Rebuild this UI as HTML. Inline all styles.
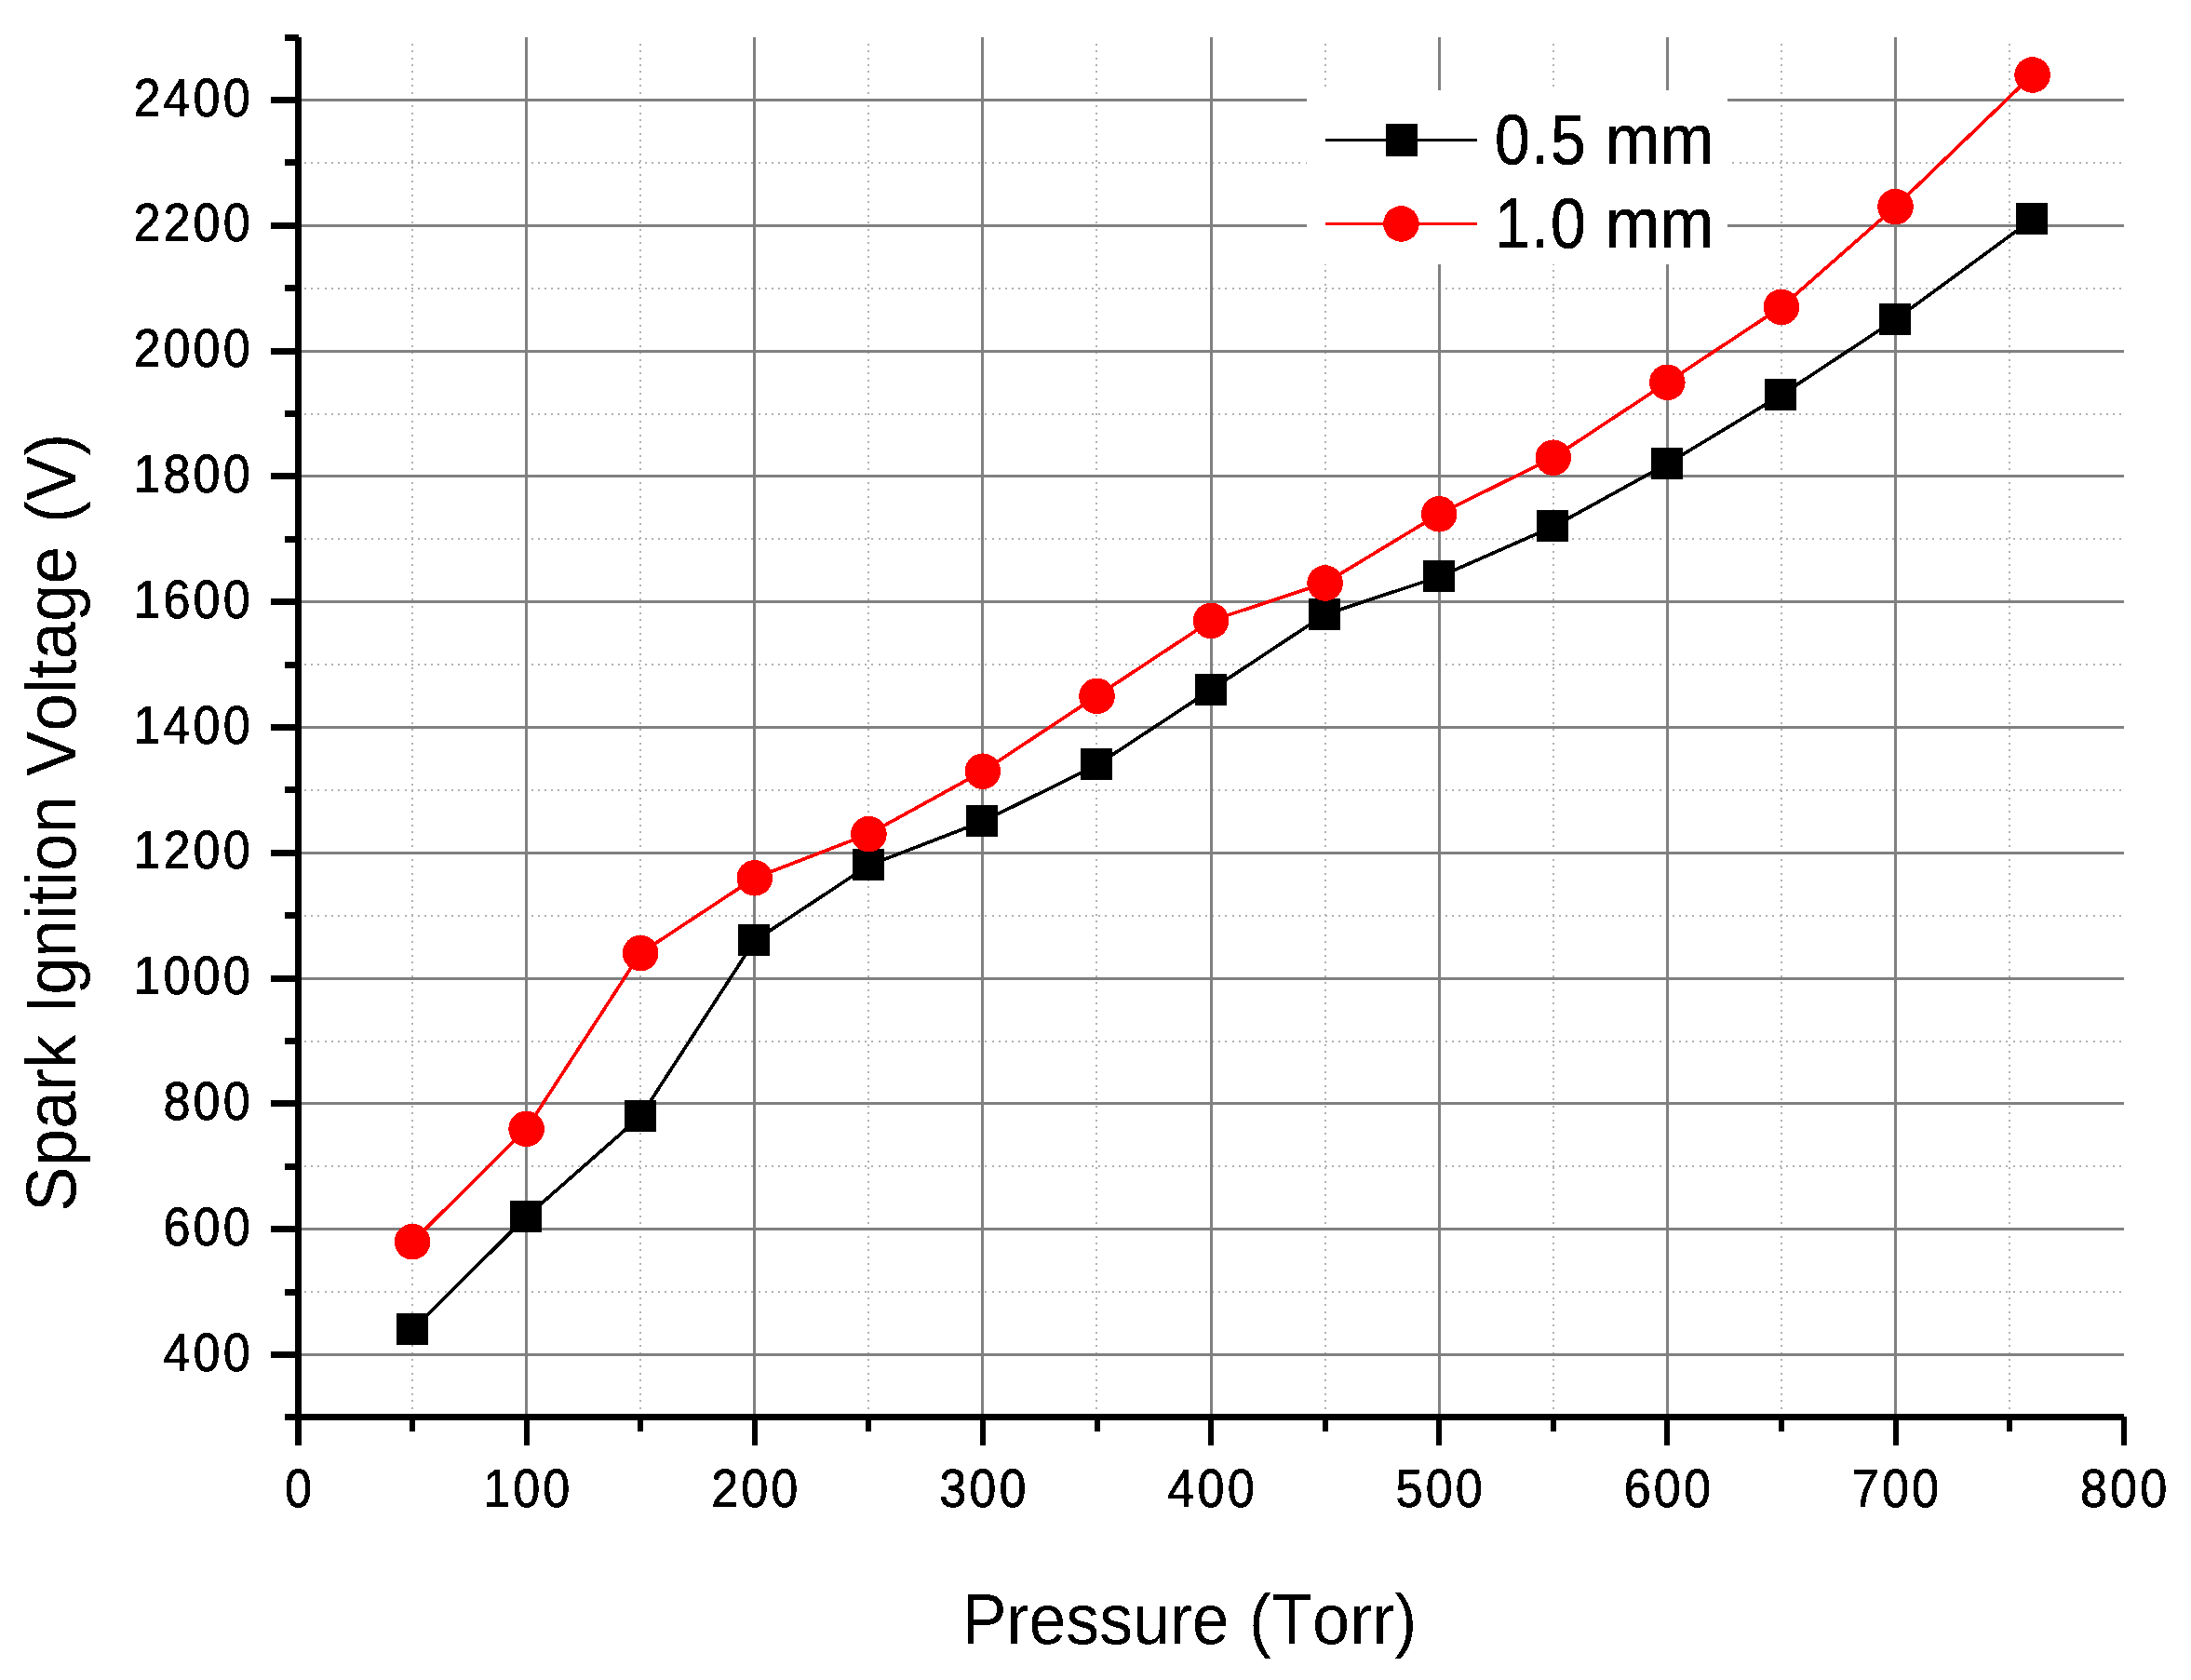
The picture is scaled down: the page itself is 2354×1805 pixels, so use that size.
<!DOCTYPE html>
<html lang="en"><head><meta charset="utf-8"><title>Spark Ignition Voltage vs Pressure</title>
<style>html,body{margin:0;padding:0;background:#fff}body{width:2354px;height:1805px;overflow:hidden}svg{display:block}text{font-family:"Liberation Sans",sans-serif;fill:#000;font-kerning:none}</style></head><body>
<svg width="2354" height="1805" viewBox="0 0 2354 1805">
<defs><filter id="hard" x="-5%" y="-5%" width="110%" height="110%" color-interpolation-filters="sRGB"><feComponentTransfer><feFuncA type="discrete" tableValues="0 1"/></feComponentTransfer></filter></defs>
<rect width="2354" height="1805" fill="#fff"/>
<g fill="none" stroke="#b0b0b0" stroke-width="2" stroke-dasharray="2 5.36" shape-rendering="crispEdges">
<line x1="443" y1="47" x2="443" y2="1518.9"/>
<line x1="688" y1="47" x2="688" y2="1518.9"/>
<line x1="933" y1="47" x2="933" y2="1518.9"/>
<line x1="1178" y1="47" x2="1178" y2="1518.9"/>
<line x1="1424" y1="47" x2="1424" y2="1518.9"/>
<line x1="1669" y1="47" x2="1669" y2="1518.9"/>
<line x1="1914" y1="47" x2="1914" y2="1518.9"/>
<line x1="2159" y1="47" x2="2159" y2="1518.9"/>
</g>
<g fill="none" stroke="#b0b0b0" stroke-width="2" stroke-dasharray="2 5.17" shape-rendering="crispEdges">
<line x1="327" y1="1388.1" x2="2281" y2="1388.1"/>
<line x1="327" y1="1253.3" x2="2281" y2="1253.3"/>
<line x1="327" y1="1118.5" x2="2281" y2="1118.5"/>
<line x1="327" y1="983.7" x2="2281" y2="983.7"/>
<line x1="327" y1="848.9" x2="2281" y2="848.9"/>
<line x1="327" y1="714.1" x2="2281" y2="714.1"/>
<line x1="327" y1="579.3" x2="2281" y2="579.3"/>
<line x1="327" y1="444.5" x2="2281" y2="444.5"/>
<line x1="327" y1="309.7" x2="2281" y2="309.7"/>
<line x1="327" y1="174.9" x2="2281" y2="174.9"/>
</g>
<g fill="none" stroke="#808080" stroke-width="3" shape-rendering="crispEdges">
<line x1="565.6" y1="40.1" x2="565.6" y2="1522.9"/>
<line x1="810.8" y1="40.1" x2="810.8" y2="1522.9"/>
<line x1="1055.9" y1="40.1" x2="1055.9" y2="1522.9"/>
<line x1="1301.1" y1="40.1" x2="1301.1" y2="1522.9"/>
<line x1="1546.2" y1="40.1" x2="1546.2" y2="1522.9"/>
<line x1="1791.3" y1="40.1" x2="1791.3" y2="1522.9"/>
<line x1="2036.5" y1="40.1" x2="2036.5" y2="1522.9"/>
<line x1="320.5" y1="1455.5" x2="2282" y2="1455.5"/>
<line x1="320.5" y1="1320.7" x2="2282" y2="1320.7"/>
<line x1="320.5" y1="1185.9" x2="2282" y2="1185.9"/>
<line x1="320.5" y1="1051.1" x2="2282" y2="1051.1"/>
<line x1="320.5" y1="916.3" x2="2282" y2="916.3"/>
<line x1="320.5" y1="781.5" x2="2282" y2="781.5"/>
<line x1="320.5" y1="646.7" x2="2282" y2="646.7"/>
<line x1="320.5" y1="511.9" x2="2282" y2="511.9"/>
<line x1="320.5" y1="377.1" x2="2282" y2="377.1"/>
<line x1="320.5" y1="242.3" x2="2282" y2="242.3"/>
<line x1="320.5" y1="107.5" x2="2282" y2="107.5"/>
</g>
<rect x="1404" y="97" width="452" height="187" fill="#fff"/>
<polyline points="443.1,1428.5 565.6,1307.2 688.2,1199.4 810.8,1010.7 933.4,929.8 1055.9,882.6 1178.5,821.9 1301.1,741.1 1423.6,660.2 1546.2,619.7 1668.8,565.8 1791.3,498.4 1913.9,424.3 2036.5,343.4 2183.6,235.6" fill="none" stroke="#000" stroke-width="3.7" stroke-linejoin="round" shape-rendering="crispEdges"/>
<g fill="#000" shape-rendering="crispEdges">
<rect x="425.6" y="1411.0" width="34" height="34"/>
<rect x="548.1" y="1289.7" width="34" height="34"/>
<rect x="670.7" y="1181.9" width="34" height="34"/>
<rect x="793.3" y="993.2" width="34" height="34"/>
<rect x="915.9" y="912.3" width="34" height="34"/>
<rect x="1038.4" y="865.1" width="34" height="34"/>
<rect x="1161.0" y="804.4" width="34" height="34"/>
<rect x="1283.6" y="723.6" width="34" height="34"/>
<rect x="1406.1" y="642.7" width="34" height="34"/>
<rect x="1528.7" y="602.2" width="34" height="34"/>
<rect x="1651.3" y="548.3" width="34" height="34"/>
<rect x="1773.8" y="480.9" width="34" height="34"/>
<rect x="1896.4" y="406.8" width="34" height="34"/>
<rect x="2019.0" y="325.9" width="34" height="34"/>
<rect x="2166.1" y="218.1" width="34" height="34"/>
</g>
<polyline points="443.1,1334.2 565.6,1212.9 688.2,1024.1 810.8,943.3 933.4,896.1 1055.9,828.7 1178.5,747.8 1301.1,666.9 1423.6,626.5 1546.2,552.3 1668.8,491.7 1791.3,410.8 1913.9,329.9 2036.5,222.1 2183.6,80.5" fill="none" stroke="#f00" stroke-width="3.7" stroke-linejoin="round" shape-rendering="crispEdges"/>
<g fill="#f00" shape-rendering="crispEdges">
<circle cx="443.1" cy="1334.2" r="19.3"/>
<circle cx="565.6" cy="1212.9" r="19.3"/>
<circle cx="688.2" cy="1024.1" r="19.3"/>
<circle cx="810.8" cy="943.3" r="19.3"/>
<circle cx="933.4" cy="896.1" r="19.3"/>
<circle cx="1055.9" cy="828.7" r="19.3"/>
<circle cx="1178.5" cy="747.8" r="19.3"/>
<circle cx="1301.1" cy="666.9" r="19.3"/>
<circle cx="1423.6" cy="626.5" r="19.3"/>
<circle cx="1546.2" cy="552.3" r="19.3"/>
<circle cx="1668.8" cy="491.7" r="19.3"/>
<circle cx="1791.3" cy="410.8" r="19.3"/>
<circle cx="1913.9" cy="329.9" r="19.3"/>
<circle cx="2036.5" cy="222.1" r="19.3"/>
<circle cx="2183.6" cy="80.5" r="19.3"/>
</g>
<g fill="#000" shape-rendering="crispEdges">
<rect x="317" y="40" width="7" height="1513"/>
<rect x="306" y="1519" width="1976" height="7"/>
<rect x="291" y="1452.0" width="30" height="7"/>
<rect x="291" y="1317.2" width="30" height="7"/>
<rect x="291" y="1182.4" width="30" height="7"/>
<rect x="291" y="1047.6" width="30" height="7"/>
<rect x="291" y="912.8" width="30" height="7"/>
<rect x="291" y="778.0" width="30" height="7"/>
<rect x="291" y="643.2" width="30" height="7"/>
<rect x="291" y="508.4" width="30" height="7"/>
<rect x="291" y="373.6" width="30" height="7"/>
<rect x="291" y="238.8" width="30" height="7"/>
<rect x="291" y="104.0" width="30" height="7"/>
<rect x="306" y="1384.6" width="15" height="7"/>
<rect x="306" y="1249.8" width="15" height="7"/>
<rect x="306" y="1115.0" width="15" height="7"/>
<rect x="306" y="980.2" width="15" height="7"/>
<rect x="306" y="845.4" width="15" height="7"/>
<rect x="306" y="710.6" width="15" height="7"/>
<rect x="306" y="575.8" width="15" height="7"/>
<rect x="306" y="441.0" width="15" height="7"/>
<rect x="306" y="306.2" width="15" height="7"/>
<rect x="306" y="171.4" width="15" height="7"/>
<rect x="306" y="36.6" width="15" height="7"/>
<rect x="562.6" y="1522" width="6" height="31"/>
<rect x="807.8" y="1522" width="6" height="31"/>
<rect x="1052.9" y="1522" width="6" height="31"/>
<rect x="1298.1" y="1522" width="6" height="31"/>
<rect x="1543.2" y="1522" width="6" height="31"/>
<rect x="1788.3" y="1522" width="6" height="31"/>
<rect x="2033.5" y="1522" width="6" height="31"/>
<rect x="2278.6" y="1522" width="6" height="31"/>
<rect x="440.1" y="1522" width="6" height="16"/>
<rect x="685.2" y="1522" width="6" height="16"/>
<rect x="930.4" y="1522" width="6" height="16"/>
<rect x="1175.5" y="1522" width="6" height="16"/>
<rect x="1420.6" y="1522" width="6" height="16"/>
<rect x="1665.8" y="1522" width="6" height="16"/>
<rect x="1910.9" y="1522" width="6" height="16"/>
<rect x="2156.1" y="1522" width="6" height="16"/>
</g>
<g filter="url(#hard)">
<g stroke="#000" stroke-width="0.8">
<text transform="translate(271.8 1472.5) scale(0.9010 1)" font-size="58" text-anchor="end" letter-spacing="3.37">400</text>
<text transform="translate(271.8 1337.7) scale(0.9010 1)" font-size="58" text-anchor="end" letter-spacing="3.37">600</text>
<text transform="translate(271.8 1202.9) scale(0.9010 1)" font-size="58" text-anchor="end" letter-spacing="3.37">800</text>
<text transform="translate(271.8 1068.1) scale(0.9010 1)" font-size="58" text-anchor="end" letter-spacing="3.37">1000</text>
<text transform="translate(271.8 933.3) scale(0.9010 1)" font-size="58" text-anchor="end" letter-spacing="3.37">1200</text>
<text transform="translate(271.8 798.5) scale(0.9010 1)" font-size="58" text-anchor="end" letter-spacing="3.37">1400</text>
<text transform="translate(271.8 663.7) scale(0.9010 1)" font-size="58" text-anchor="end" letter-spacing="3.37">1600</text>
<text transform="translate(271.8 528.9) scale(0.9010 1)" font-size="58" text-anchor="end" letter-spacing="3.37">1800</text>
<text transform="translate(271.8 394.1) scale(0.9010 1)" font-size="58" text-anchor="end" letter-spacing="3.37">2000</text>
<text transform="translate(271.8 259.3) scale(0.9010 1)" font-size="58" text-anchor="end" letter-spacing="3.37">2200</text>
<text transform="translate(271.8 124.5) scale(0.9010 1)" font-size="58" text-anchor="end" letter-spacing="3.37">2400</text>
<text transform="translate(322.0 1619.0) scale(0.9010 1)" font-size="58" text-anchor="middle" letter-spacing="3.37">0</text>
<text transform="translate(567.2 1619.0) scale(0.9010 1)" font-size="58" text-anchor="middle" letter-spacing="3.37">100</text>
<text transform="translate(812.3 1619.0) scale(0.9010 1)" font-size="58" text-anchor="middle" letter-spacing="3.37">200</text>
<text transform="translate(1057.4 1619.0) scale(0.9010 1)" font-size="58" text-anchor="middle" letter-spacing="3.37">300</text>
<text transform="translate(1302.6 1619.0) scale(0.9010 1)" font-size="58" text-anchor="middle" letter-spacing="3.37">400</text>
<text transform="translate(1547.7 1619.0) scale(0.9010 1)" font-size="58" text-anchor="middle" letter-spacing="3.37">500</text>
<text transform="translate(1792.9 1619.0) scale(0.9010 1)" font-size="58" text-anchor="middle" letter-spacing="3.37">600</text>
<text transform="translate(2038.0 1619.0) scale(0.9010 1)" font-size="58" text-anchor="middle" letter-spacing="3.37">700</text>
<text transform="translate(2283.1 1619.0) scale(0.9010 1)" font-size="58" text-anchor="middle" letter-spacing="3.37">800</text>
</g>
<text transform="translate(1033.7 1766.0) scale(0.9440 1)" font-size="76" text-anchor="start">Pressure</text>
<text transform="translate(1342.0 1766.0) scale(0.9490 1)" font-size="76" text-anchor="start">(Torr)</text>
<text transform="translate(81.0 1302.0) rotate(-90) scale(0.9600 1)" font-size="76" text-anchor="start">Spark</text>
<text transform="translate(81.0 1089.0) rotate(-90) scale(0.9550 1)" font-size="76" text-anchor="start">Ignition</text>
<text transform="translate(81.0 834.0) rotate(-90) scale(0.9580 1)" font-size="76" text-anchor="start">Voltage</text>
<text transform="translate(81.0 562.0) rotate(-90) scale(0.9500 1)" font-size="76" text-anchor="start">(V)</text>
</g>
<line x1="1425.5" y1="150.5" x2="1586" y2="150.5" stroke="#000" stroke-width="3" stroke-linecap="round" shape-rendering="crispEdges"/>
<rect x="1489" y="133" width="34" height="35" fill="#000" shape-rendering="crispEdges"/>
<line x1="1425.5" y1="240.5" x2="1586" y2="240.5" stroke="#f00" stroke-width="3" stroke-linecap="round" shape-rendering="crispEdges"/>
<circle cx="1505.5" cy="240.5" r="19.3" fill="#f00" shape-rendering="crispEdges"/>
<g filter="url(#hard)" stroke="#000" stroke-width="0.6">
<text transform="translate(1606.0 176.0) scale(0.8920 1)" font-size="76" text-anchor="start" letter-spacing="2.0">0.5</text>
<text transform="translate(1725.0 176.0) scale(0.9200 1)" font-size="76" text-anchor="start">mm</text>
<text transform="translate(1606.0 266.0) scale(0.8920 1)" font-size="76" text-anchor="start" letter-spacing="2.0">1.0</text>
<text transform="translate(1725.0 266.0) scale(0.9200 1)" font-size="76" text-anchor="start">mm</text>
</g>
</svg></body></html>
